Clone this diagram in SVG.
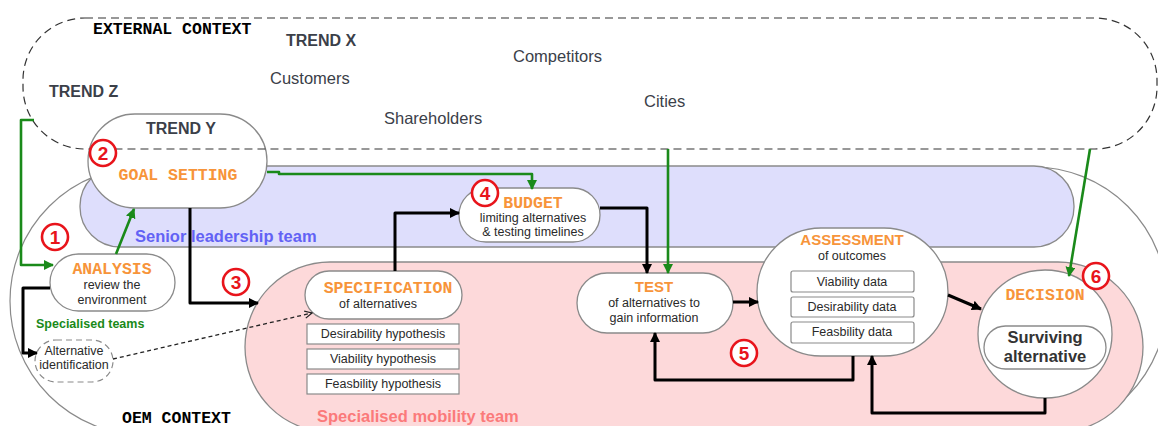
<svg xmlns="http://www.w3.org/2000/svg" width="1158" height="426" viewBox="0 0 1158 426">
<style>
.bg{fill:#ffffff}
.node{fill:#ffffff;stroke:#8a8a8a;stroke-width:1.3}
.box{fill:#ffffff;stroke:#8a8a8a;stroke-width:1.2}
.mono{font-family:"Liberation Mono","DejaVu Sans Mono",monospace;font-weight:bold;font-size:16.5px}
.ttl{fill:#f7943a}
.sans{font-family:"Liberation Sans",Arial,sans-serif}
.small{font-family:"Liberation Sans",Arial,sans-serif;font-size:12.5px;fill:#2a2a2a}
.trend{font-family:"Liberation Sans",Arial,sans-serif;font-weight:bold;font-size:16px;fill:#3b4049}
.actor{font-family:"Liberation Sans",Arial,sans-serif;font-size:16.5px;fill:#3b4049}
.blk{fill:none;stroke:#000;stroke-width:3;stroke-linejoin:round}
.grn{fill:none;stroke:#1a8a1a;stroke-width:2.6;stroke-linejoin:round}
.num circle{fill:#ffffff;stroke:#e8141b;stroke-width:2.6}
.num text{font-family:"Liberation Sans",Arial,sans-serif;font-weight:bold;font-size:19px;fill:#e8141b;text-anchor:middle}
</style>
<defs>
<marker id="ab" viewBox="0 0 10 10" refX="9" refY="5" markerWidth="10" markerHeight="10" markerUnits="userSpaceOnUse" orient="auto"><path d="M0,0 L10,5 L0,10 z" fill="#000"/></marker>
<marker id="ag" viewBox="0 0 10 10" refX="9" refY="5" markerWidth="10" markerHeight="10" markerUnits="userSpaceOnUse" orient="auto"><path d="M0,0 L10,5 L0,10 z" fill="#1a8a1a"/></marker>
<marker id="ao" viewBox="0 0 10 10" refX="9" refY="5" markerWidth="9" markerHeight="9" markerUnits="userSpaceOnUse" orient="auto"><path d="M1,1 L9,5 L1,9" fill="none" stroke="#222" stroke-width="1.4"/></marker>
</defs>

<g id="oem-context">
<rect x="10" y="167" width="1157" height="268" rx="134" ry="134" fill="#ffffff" stroke="#8a8a8a" stroke-width="1.2"/>
<text x="122" y="423" class="mono" fill="#000">OEM CONTEXT</text>
</g>

<g id="senior-leadership-team">
<rect x="80" y="166" width="994" height="81" rx="40" ry="40" fill="#dedefc" stroke="#8a8a8a" stroke-width="1.3"/>
<text x="135" y="242" class="sans" font-weight="bold" font-size="16.5" fill="#6262f5">Senior leadership team</text>
</g>

<g id="specialised-mobility-team">
<rect x="245" y="262" width="898" height="170" rx="85" ry="85" fill="#fdd9da" stroke="#8a8a8a" stroke-width="1.3"/>
<text x="317" y="422" class="sans" font-weight="bold" font-size="16.5" fill="#fb7a7a">Specialised mobility team</text>
</g>

<g id="goal-setting">
<rect x="88" y="114" width="179" height="94" rx="47" ry="47" class="node"/>
<text x="181" y="134" class="trend" text-anchor="middle">TREND Y</text>
<text x="178" y="180" class="mono ttl" text-anchor="middle">GOAL SETTING</text>
</g>

<g id="external-context">
<rect x="23" y="18" width="1134" height="131" rx="62" ry="62" fill="none" stroke="#333" stroke-width="1.2" stroke-dasharray="8,5"/>
<text x="93" y="34" class="mono" fill="#000">EXTERNAL CONTEXT</text>
<text x="286" y="46" class="trend">TREND X</text>
<text x="49" y="97" class="trend">TREND Z</text>
<text x="270" y="84" class="actor">Customers</text>
<text x="513" y="62" class="actor">Competitors</text>
<text x="384" y="124" class="actor">Shareholders</text>
<text x="644" y="107" class="actor">Cities</text>
</g>

<g id="analysis">
<rect x="50" y="254" width="125" height="57" rx="28.5" ry="28.5" class="node"/>
<text x="112" y="274" class="mono ttl" text-anchor="middle">ANALYSIS</text>
<text x="112" y="289" class="small" text-anchor="middle">review the</text>
<text x="112" y="304" class="small" text-anchor="middle">environment</text>
</g>

<g id="specialised-teams-label">
<text x="36" y="328" class="sans" font-weight="bold" font-size="12.5" fill="#1a8a1a">Specialised teams</text>
</g>

<g id="alternative-identification">
<rect x="35" y="340" width="78" height="42" rx="21" ry="21" fill="#ffffff" stroke="#8a8a8a" stroke-width="1.2" stroke-dasharray="6,4"/>
<text x="74" y="355" class="small" fill="#333" text-anchor="middle">Alternative</text>
<text x="74" y="369" class="small" fill="#333" text-anchor="middle">identification</text>
</g>

<g id="specification">
<rect x="305" y="271" width="157" height="48" rx="24" ry="24" class="node"/>
<text x="388" y="293" class="mono ttl" text-anchor="middle">SPECIFICATION</text>
<text x="378" y="308" class="small" text-anchor="middle">of alternatives</text>
<rect x="307" y="324" width="152" height="20" class="box"/>
<text x="383" y="338" class="small" fill="#333" text-anchor="middle">Desirability hypothesis</text>
<rect x="307" y="349" width="152" height="20" class="box"/>
<text x="383" y="363" class="small" fill="#333" text-anchor="middle">Viability hypothesis</text>
<rect x="307" y="374" width="152" height="20" class="box"/>
<text x="383" y="388" class="small" fill="#333" text-anchor="middle">Feasbility hypothesis</text>
</g>

<g id="budget">
<rect x="459" y="188" width="141" height="54" rx="27" ry="27" class="node"/>
<text x="533" y="208" class="mono ttl" text-anchor="middle">BUDGET</text>
<text x="533" y="222" class="small" text-anchor="middle">limiting alternatives</text>
<text x="533" y="236" class="small" text-anchor="middle">&amp; testing timelines</text>
</g>

<g id="test">
<rect x="577" y="273" width="156" height="60" rx="30" ry="30" class="node"/>
<text x="654" y="292" class="sans ttl" font-weight="bold" font-size="15" text-anchor="middle">TEST</text>
<text x="654" y="307" class="small" text-anchor="middle">of alternatives to</text>
<text x="654" y="322" class="small" text-anchor="middle">gain information</text>
</g>

<g id="assessment">
<rect x="757" y="228" width="191" height="128" rx="64" ry="64" class="node"/>
<text x="852" y="245" class="sans ttl" font-weight="bold" font-size="15" text-anchor="middle">ASSESSMENT</text>
<text x="852" y="260" class="small" text-anchor="middle">of outcomes</text>
<rect x="791" y="271" width="123" height="21" rx="2" class="box"/>
<text x="852" y="286" class="small" fill="#333" text-anchor="middle">Viability data</text>
<rect x="791" y="297" width="123" height="20" rx="2" class="box"/>
<text x="852" y="311" class="small" fill="#333" text-anchor="middle">Desirability data</text>
<rect x="791" y="322" width="123" height="21" rx="2" class="box"/>
<text x="852" y="336" class="small" fill="#333" text-anchor="middle">Feasbility data</text>
</g>

<g id="decision">
<ellipse cx="1045" cy="334" rx="67" ry="64" class="node"/>
<text x="1045" y="300" class="mono ttl" text-anchor="middle">DECISION</text>
<rect x="984" y="326" width="122" height="43" rx="21.5" ry="21.5" class="node"/>
<text x="1045" y="343" class="sans" font-weight="bold" font-size="16.5" fill="#333" text-anchor="middle">Surviving</text>
<text x="1045" y="362" class="sans" font-weight="bold" font-size="16.5" fill="#333" text-anchor="middle">alternative</text>
</g>

<g id="connectors">
<path class="grn" d="M34,120 H21 V265 H53" marker-end="url(#ag)"/>
<path class="grn" d="M116,254 L134,209" marker-end="url(#ag)"/>
<path class="grn" d="M267,172 H279 V174 H532 V189" marker-end="url(#ag)"/>
<path class="grn" d="M668,149 V273" marker-end="url(#ag)"/>
<path class="grn" d="M1090,149 L1069,276" marker-end="url(#ag)"/>
<path class="blk" d="M190,208 V303 H258" marker-end="url(#ab)"/>
<path class="blk" d="M50,288 H23 V353 H37" marker-end="url(#ab)"/>
<path fill="none" stroke="#222" stroke-width="1.3" stroke-dasharray="4,3" d="M113,359 L312,313" marker-end="url(#ao)"/>
<path class="blk" d="M395,271 V213 H459" marker-end="url(#ab)"/>
<path class="blk" d="M600,208 H647 V273" marker-end="url(#ab)"/>
<path class="blk" d="M733,302 H758" marker-end="url(#ab)"/>
<path class="blk" d="M948,295 L981,309" marker-end="url(#ab)"/>
<path class="blk" d="M853,356 V380 H655 V333" marker-end="url(#ab)"/>
<path class="blk" d="M1045,398 V413 H872 V356" marker-end="url(#ab)"/>
</g>

<g id="step-numbers" class="num">
<g id="n1"><circle cx="55" cy="237" r="13"/><text x="55" y="244">1</text></g>
<g id="n2"><circle cx="103" cy="153" r="13"/><text x="103" y="160">2</text></g>
<g id="n3"><circle cx="236" cy="282" r="13"/><text x="236" y="289">3</text></g>
<g id="n4"><circle cx="485" cy="193" r="13"/><text x="485" y="200">4</text></g>
<g id="n5"><circle cx="744" cy="353" r="13"/><text x="744" y="360">5</text></g>
<g id="n6"><circle cx="1096" cy="276" r="13"/><text x="1096" y="283">6</text></g>
</g>
</svg>
